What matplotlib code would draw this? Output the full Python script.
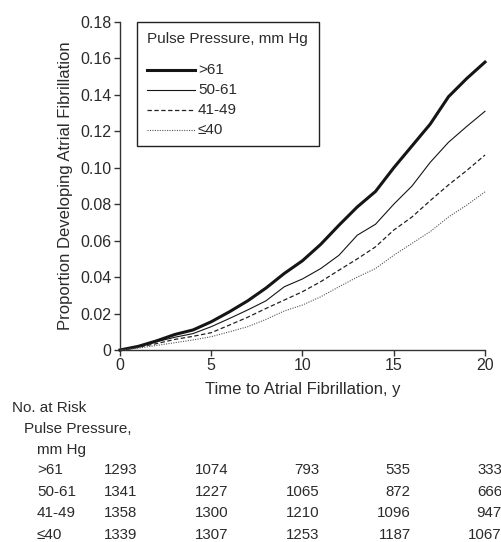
import matplotlib
matplotlib.use("Agg")
import matplotlib.pyplot as plt
from matplotlib.patches import Rectangle

plt.rcParams['font.family'] = ['Liberation Sans', 'DejaVu Sans']
TXT = '#2b2b2b'

# cumulative incidence, yearly
years = list(range(0, 21))
pp_gt61 = [0, 0.002, 0.005, 0.0085, 0.011, 0.0155, 0.021, 0.027, 0.034, 0.042, 0.049,
           0.058, 0.0685, 0.0785, 0.087, 0.100, 0.112, 0.124, 0.139, 0.149, 0.158]
pp_50_61 = [0, 0.0018, 0.0045, 0.007, 0.009, 0.0128, 0.0173, 0.022, 0.027, 0.0347, 0.039,
            0.0447, 0.052, 0.063, 0.069, 0.080, 0.090, 0.103, 0.114, 0.1227, 0.131]
pp_41_49 = [0, 0.0015, 0.0035, 0.0058, 0.0075, 0.0095, 0.0137, 0.018, 0.0228, 0.0274, 0.032,
            0.0375, 0.0438, 0.050, 0.0566, 0.0658, 0.073, 0.082, 0.0906, 0.0985, 0.107]
pp_le40 = [0, 0.001, 0.0025, 0.004, 0.0055, 0.0073, 0.010, 0.0128, 0.0168, 0.0214, 0.0247,
           0.0292, 0.0347, 0.040, 0.0447, 0.052, 0.0585, 0.065, 0.073, 0.0795, 0.0868]

groups = ['>61', '50-61', '41-49', '≤40']
risk_times = [0, 5, 10, 15, 20]
risk_gt61 = [1293, 1074, 793, 535, 333]
risk_50_61 = [1341, 1227, 1065, 872, 666]
risk_41_49 = [1358, 1300, 1210, 1096, 947]
risk_le40 = [1339, 1307, 1253, 1187, 1067]

styles = [
    dict(color='#151515', lw=2.2, ls='-'),
    dict(color='#151515', lw=0.8, ls='-'),
    dict(color='#222222', lw=0.9, ls=(0, (3.5, 2))),
    dict(color='#555555', lw=0.8, ls=(0, (1, 1.2))),
]

W, H = 502, 542
fig = plt.figure(figsize=(W / 100, H / 100), dpi=100)
ax = fig.add_axes([120 / W, 1 - 350 / H, 365 / W, 328 / H])

for vals, st in zip([pp_gt61, pp_50_61, pp_41_49, pp_le40], styles):
    ax.plot(years, vals, **st, solid_joinstyle='miter', clip_on=False)

ax.set_xlim(0, 20)
ax.set_ylim(0, 0.18)
ax.set_xticks([0, 5, 10, 15, 20])
yt = [i * 0.02 for i in range(10)]
ax.set_yticks(yt)
ax.set_yticklabels(['0'] + ['%.2f' % v for v in yt[1:]])
for s in ['top', 'right']:
    ax.spines[s].set_visible(False)
for s in ['left', 'bottom']:
    ax.spines[s].set_color('#333333')
    ax.spines[s].set_linewidth(1.0)
ax.tick_params(direction='out', length=4, width=1, colors='#333333',
               labelcolor=TXT, labelsize=11.5, pad=2)
ax.set_xlabel('Time to Atrial Fibrillation, y', fontsize=12, color=TXT, labelpad=6)
ax.set_ylabel('Proportion Developing Atrial Fibrillation', fontsize=12, color=TXT, labelpad=5.5)

# legend box drawn by hand
def ax_pt(px, py):
    return ((px - 120) / 365, (350 - py) / 328)

x0, y0 = ax_pt(137, 146)
x1, y1 = ax_pt(319, 22)
ax.add_patch(Rectangle((x0, y0), x1 - x0, y1 - y0, transform=ax.transAxes,
                       fill=False, ec='#222222', lw=1.0, clip_on=False))
tx, ty = ax_pt(147, 39)
ax.text(tx, ty, 'Pulse Pressure, mm Hg', transform=ax.transAxes, fontsize=11,
        color=TXT, va='center', ha='left')
for i, (g, st) in enumerate(zip(groups, styles)):
    py = 70 + i * 20
    la, lb = ax_pt(147, py)
    lc, _ = ax_pt(195, py)
    ax.plot([la, lc], [lb, lb], transform=ax.transAxes, clip_on=False, **st)
    tx, ty = ax_pt(198, py)
    ax.text(tx, ty, g, transform=ax.transAxes, fontsize=11, color=TXT,
            va='center', ha='left')

# number at risk table
def fy(py):
    return 1 - py / H

fig.text(12 / W, fy(408), 'No. at Risk', fontsize=11, color=TXT, va='center')
fig.text(24 / W, fy(429), 'Pulse Pressure,', fontsize=11, color=TXT, va='center')
fig.text(37 / W, fy(450), 'mm Hg', fontsize=11, color=TXT, va='center')
row_y = [470, 492, 513, 535]
for g, counts, py in zip(groups, [risk_gt61, risk_50_61, risk_41_49, risk_le40], row_y):
    fig.text(37 / W, fy(py), g, fontsize=11, color=TXT, va='center')
    for t, n in zip(risk_times, counts):
        ax.annotate(str(n), xy=(t, fy(py)), xycoords=('data', 'figure fraction'),
                    xytext=(17, 0), textcoords='offset pixels', ha='right',
                    va='center', fontsize=10.8, color=TXT, annotation_clip=False)

fig.savefig('out.png', dpi=100)
